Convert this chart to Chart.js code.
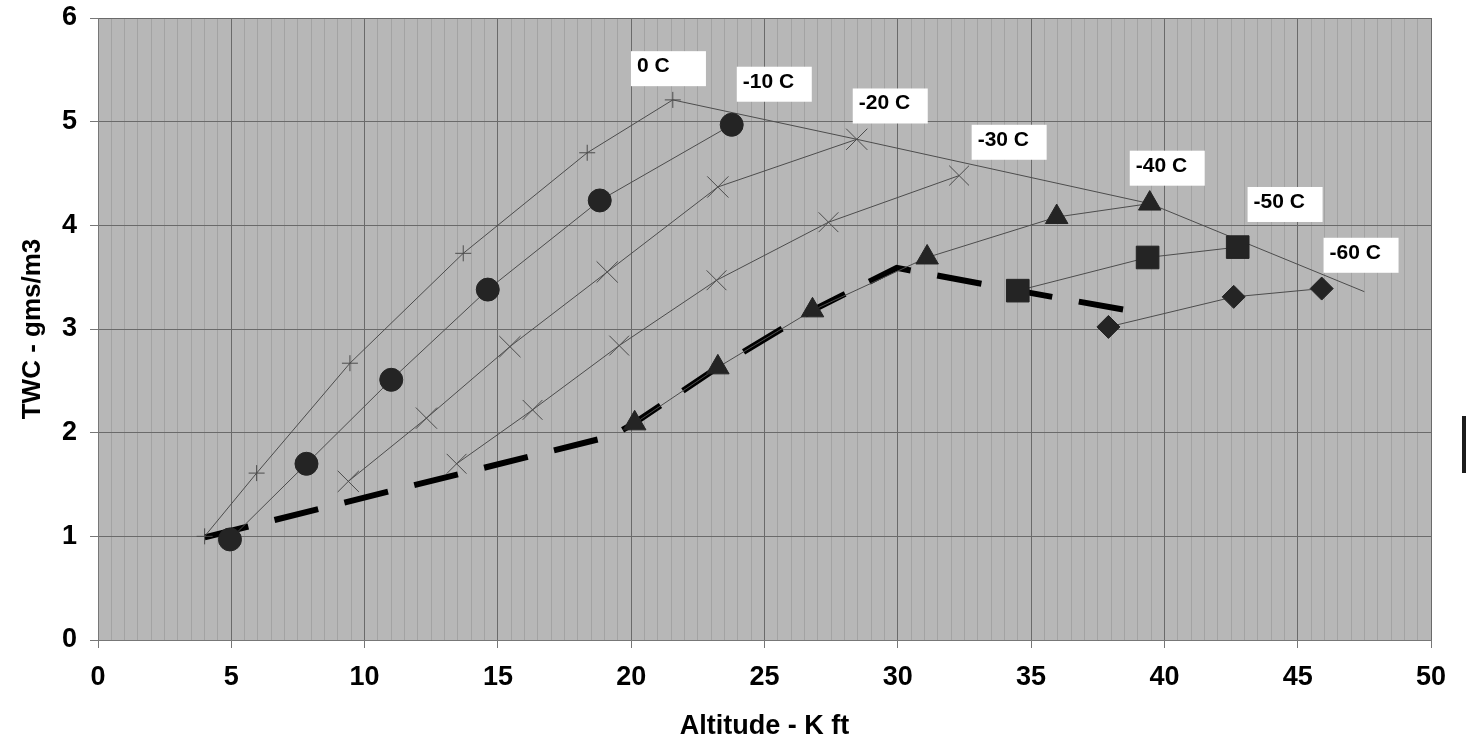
<!DOCTYPE html>
<html>
<head>
<meta charset="utf-8">
<script src="https://cdn.jsdelivr.net/npm/chart.js@4.4.1/dist/chart.umd.min.js"></script>
<style>
  html, body { margin: 0; padding: 0; background: #ffffff; }
  #wrap { width: 1466px; height: 745px; position: relative; }
</style>
</head>
<body>
<div id="wrap"><canvas id="c"></canvas></div>
<script>
// ---- Data ----
const alt0C   = [4.0, 5.95, 9.45, 13.7, 18.35, 21.56];
const twc0C   = [1.00, 1.61, 2.67, 3.73, 4.70, 5.21];

const alt10C  = [4.95, 7.82, 11.0, 14.62, 18.82, 23.77];
const twc10C  = [0.97, 1.70, 2.51, 3.38, 4.24, 4.97];

const alt20C  = [9.39, 12.32, 15.45, 19.1, 23.25, 28.46];
const twc20C  = [1.53, 2.14, 2.83, 3.55, 4.37, 4.83];

const alt30C  = [13.45, 16.3, 19.55, 23.2, 27.4, 32.3];
const twc30C  = [1.70, 2.22, 2.84, 3.47, 4.03, 4.48];

const alt40C  = [20.13, 23.25, 26.8, 31.1, 35.96, 39.45];
const twc40C  = [2.09, 2.63, 3.18, 3.69, 4.08, 4.21];

const alt50C  = [34.5, 39.37, 42.75];
const twc50C  = [3.37, 3.69, 3.79];

const alt60C  = [37.9, 42.6, 45.9];
const twc60C  = [3.02, 3.31, 3.39];

const altEnvelope = [21.56, 28.46, 39.45, 47.5];
const twcEnvelope = [5.21, 4.83, 4.21, 3.36];

const altDesign = [4.0, 19.3, 20.1, 23.25, 26.8, 29.96, 34.5, 39.26];
const twcDesign = [0.99, 1.97, 2.09, 2.63, 3.18, 3.59, 3.37, 3.15];

const tempLabels = ["0 C", "-10 C", "-20 C", "-30 C", "-40 C", "-50 C", "-60 C"];
const xTickLabels = [0, 5, 10, 15, 20, 25, 30, 35, 40, 45, 50];
const yTickLabels = [0, 1, 2, 3, 4, 5, 6];

// ---- Annotation placement (top-left corner of each label box, in axis units) ----
const labelBoxAnchors = {
  x: [19.99, 23.96, 28.31, 32.77, 38.7, 43.12, 45.97],
  y: [5.68, 5.53, 5.32, 4.97, 4.72, 4.37, 3.88]
};

const pts = (xs, ys) => xs.map((x, i) => ({ x: x, y: ys[i] }));

const LINE = '#4c4c4c';
const MARK = '#242424';
const FONT = "'Liberation Sans', Arial, sans-serif";

const thin = (label, xs, ys, style, radius, filled) => ({
  label: label,
  data: pts(xs, ys),
  showLine: true,
  borderColor: LINE,
  borderWidth: 1,
  pointStyle: style,
  pointRadius: radius,
  pointHoverRadius: radius,
  pointBackgroundColor: filled ? MARK : 'rgba(0,0,0,0)',
  pointBorderColor: filled ? MARK : LINE,
  pointBorderWidth: 1,
  tension: 0,
  order: 0
});

const datasets = [
  {
    label: 'envelope',
    data: pts(altEnvelope, twcEnvelope),
    showLine: true, borderColor: LINE, borderWidth: 1,
    pointRadius: 0, pointHoverRadius: 0, order: 3
  },
  thin(tempLabels[0], alt0C, twc0C, 'cross', 8, false),
  thin(tempLabels[1], alt10C, twc10C, 'circle', 11.5, true),
  thin(tempLabels[2], alt20C, twc20C, 'crossRot', 15, false),
  thin(tempLabels[3], alt30C, twc30C, 'crossRot', 14, false),
  {
    label: 'design',
    data: pts(altDesign, twcDesign),
    showLine: true, borderColor: '#000000', borderWidth: 6,
    borderDash: [45, 27], borderCapStyle: 'butt', borderJoinStyle: 'miter',
    pointRadius: 0, pointHoverRadius: 0, order: 2
  },
  thin(tempLabels[4], alt40C, twc40C, 'triangle', 13, true),
  thin(tempLabels[5], alt50C, twc50C, 'rect', 16, true),
  thin(tempLabels[6], alt60C, twc60C, 'rectRot', 11.5, true)
];

const plotBg = {
  id: 'plotBg',
  beforeDraw(chart) {
    const { ctx, chartArea: a } = chart;
    ctx.save();
    ctx.fillStyle = '#b7b7b7';
    ctx.fillRect(a.left, a.top, a.right - a.left, a.bottom - a.top);
    ctx.restore();
  }
};

const tempBoxes = {
  id: 'tempBoxes',
  afterDatasetsDraw(chart) {
    const { ctx } = chart;
    const xs = chart.scales.x, ys = chart.scales.y;
    ctx.save();
    ctx.font = "bold 21px " + FONT;
    ctx.textBaseline = 'alphabetic';
    ctx.textAlign = 'left';
    tempLabels.forEach((t, i) => {
      const px = xs.getPixelForValue(labelBoxAnchors.x[i]);
      const py = ys.getPixelForValue(labelBoxAnchors.y[i]);
      ctx.fillStyle = '#ffffff';
      ctx.fillRect(px, py, 75, 35);
      ctx.fillStyle = '#000000';
      ctx.fillText(t, px + 6, py + 21);
    });
    ctx.restore();
  },
  afterDraw(chart) {
    // clipped legend frame fragment at the right edge
    const { ctx } = chart;
    ctx.save();
    ctx.fillStyle = '#1c1c1c';
    ctx.fillRect(chart.width - 4, 416, 4, 57);
    ctx.restore();
  }
};

new Chart(document.getElementById('c'), {
  type: 'scatter',
  data: { datasets: datasets },
  plugins: [plotBg, tempBoxes],
  options: {
    responsive: true,
    maintainAspectRatio: false,
    animation: false,
    events: [],
    layout: { padding: { top: 18, right: 35, left: 0, bottom: 0 } },
    plugins: { legend: { display: false }, tooltip: { enabled: false } },
    scales: {
      x: {
        type: 'linear',
        min: xTickLabels[0],
        max: xTickLabels[xTickLabels.length - 1],
        afterFit(s) { s.height = 105; s.paddingLeft = 0; s.paddingRight = 0; },
        afterBuildTicks(s) {
          const t = [];
          for (let i = 0; i <= 100; i++) t.push({ value: i / 2 });
          s.ticks = t;
        },
        ticks: {
          autoSkip: false, maxRotation: 0, minRotation: 0,
          padding: 13,
          color: '#000000',
          font: { family: FONT, size: 27, weight: 'bold' },
          callback: (v) => (xTickLabels.includes(v) ? String(v) : '')
        },
        grid: {
          drawOnChartArea: true,
          tickLength: 8,
          lineWidth: 1,
          color: (c) => (c.tick && xTickLabels.includes(c.tick.value)) ? '#6a6a6a' : 'rgba(70,70,70,0.18)',
          tickColor: (c) => (c.tick && xTickLabels.includes(c.tick.value)) ? '#777777' : 'rgba(0,0,0,0)'
        },
        border: { display: true, color: '#777777', width: 1 },
        title: {
          display: true,
          text: 'Altitude - K ft',
          color: '#000000',
          font: { family: FONT, size: 27, weight: 'bold' },
          padding: { top: 0, bottom: 2 }
        }
      },
      y: {
        type: 'linear',
        min: yTickLabels[0],
        max: yTickLabels[yTickLabels.length - 1],
        afterFit(s) { s.width = 98; s.paddingTop = 0; s.paddingBottom = 0; },
        ticks: {
          stepSize: 1,
          padding: 13,
          color: '#000000',
          font: { family: FONT, size: 27, weight: 'bold' }
        },
        grid: {
          drawOnChartArea: true,
          tickLength: 8,
          lineWidth: 1,
          color: '#6a6a6a',
          tickColor: '#777777'
        },
        border: { display: true, color: '#777777', width: 1 },
        title: {
          display: true,
          text: 'TWC - gms/m3',
          color: '#000000',
          font: { family: FONT, size: 26, weight: 'bold' },
          padding: { top: 17, bottom: 0 }
        }
      }
    }
  }
});
</script>
</body>
</html>
